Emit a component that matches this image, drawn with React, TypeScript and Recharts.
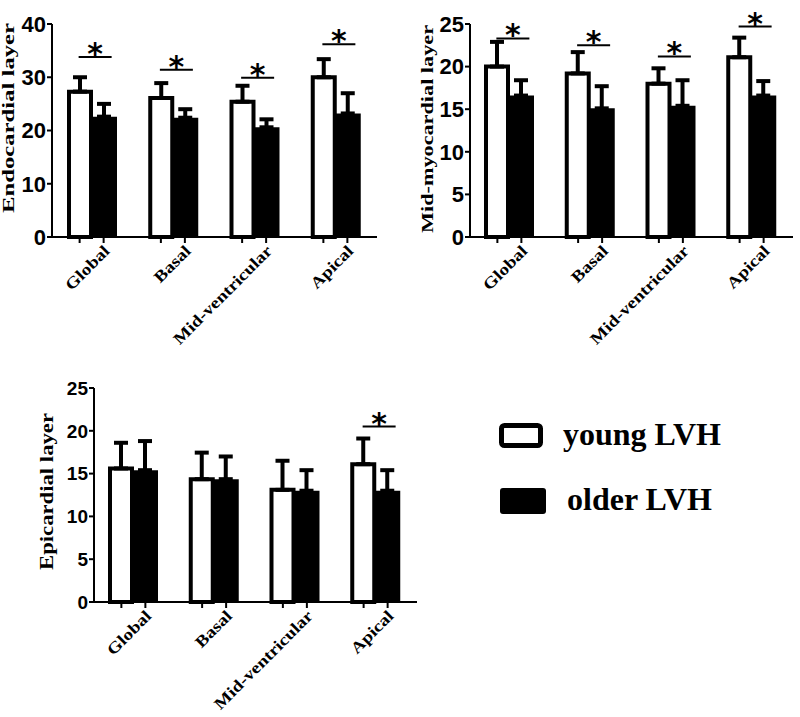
import React from 'react';
import { BarChart, Bar, XAxis, YAxis, ErrorBar, ReferenceDot, Legend } from 'recharts';

const categories = ['Global', 'Basal', 'Mid-ventricular', 'Apical'];
const seriesNames = ['young LVH', 'older LVH'];

// Endocardial layer
const endoYoung = [27.3, 26.1, 25.4, 30.0];
const endoYoungSd = [2.7, 2.8, 3.0, 3.4];
const endoOlder = [22.6, 22.4, 20.6, 23.2];
const endoOlderSd = [2.4, 1.6, 1.5, 3.8];
const endoSig = [33.8, 31.4, 29.9, 36.2];
const endoTicks = [0, 10, 20, 30, 40];

// Mid-myocardial layer
const midYoung = [20.0, 19.2, 18.0, 21.1];
const midYoungSd = [2.9, 2.5, 1.8, 2.3];
const midOlder = [16.6, 15.1, 15.4, 16.6];
const midOlderSd = [1.8, 2.6, 3.0, 1.7];
const midSig = [23.3, 22.5, 21.2, 24.7];
const midTicks = [0, 5, 10, 15, 20, 25];

// Epicardial layer
const epiYoung = [15.6, 14.35, 13.1, 16.1];
const epiYoungSd = [3.0, 3.1, 3.4, 3.0];
const epiOlder = [15.4, 14.35, 13.0, 13.0];
const epiOlderSd = [3.4, 2.65, 2.4, 2.4];
const epiSig = [null, null, null, 20.5];
const epiTicks = [0, 5, 10, 15, 20, 25];

const buildData = (y: number[], ysd: number[], o: number[], osd: number[]) =>
  categories.map((c, i) => ({
    cat: c,
    young: y[i],
    older: o[i],
    youngErr: [0, ysd[i]],
    olderErr: [0, osd[i]],
  }));

const endoData = buildData(endoYoung, endoYoungSd, endoOlder, endoOlderSd);
const midData = buildData(midYoung, midYoungSd, midOlder, midOlderSd);
const epiData = buildData(epiYoung, epiYoungSd, epiOlder, epiOlderSd);

const SERIF = '"Liberation Serif", "Times New Roman", serif';
const SANS = '"Liberation Sans", Arial, sans-serif';

const XTick = (props: any) => {
  const { x, y, payload } = props;
  return (
    <g>
      <line x1={x - 13} x2={x - 13} y1={y} y2={y + 6} stroke="#000" strokeWidth={2} />
      <line x1={x + 11} x2={x + 11} y1={y} y2={y + 6} stroke="#000" strokeWidth={2} />
      <text
        transform={`translate(${x + 18},${y + 15}) rotate(-45) scale(1.2,1)`}
        textAnchor="end"
        fontFamily={SERIF}
        fontWeight="bold"
        fontSize={16}
        fill="#000"
      >
        {payload.value}
      </text>
    </g>
  );
};

const YTitle = (props: any) => {
  const { titleText, px, py, len, fs } = props;
  return (
    <text
      transform={`translate(${px},${py}) rotate(-90)`}
      textAnchor="middle"
      fontFamily={SERIF}
      fontWeight="bold"
      fontSize={fs}
      textLength={len}
      lengthAdjust="spacingAndGlyphs"
      fill="#000"
    >
      {titleText}
    </text>
  );
};

const SigMark = (props: any) => {
  const { cx, cy } = props;
  if (cx == null || cy == null) return null;
  return (
    <g>
      <line x1={cx - 14} x2={cx + 19} y1={cy} y2={cy} stroke="#000" strokeWidth={2} />
      <text
        x={cx + 2.5}
        y={cy + 7}
        textAnchor="middle"
        fontFamily='"DejaVu Sans", sans-serif'
        fontWeight="bold"
        fontSize={30}
        fill="#000"
      >
        *
      </text>
    </g>
  );
};

const LegendContent = (props: any) => {
  const items = [...(props.payload || [])].sort(
    (a: any, b: any) => seriesNames.indexOf(a.value) - seriesNames.indexOf(b.value)
  );
  return (
    <svg width={300} height={110} style={{ display: 'block' }}>
      {items.map((entry: any) => {
        const i = seriesNames.indexOf(entry.value);
        return (
          <g key={entry.value} transform={`translate(0,${i * 65})`}>
            {i === 0 ? (
              <rect x={6.5} y={10.5} width={39} height={20} rx={3} fill="#fff" stroke="#000" strokeWidth={5} />
            ) : (
              <rect x={5} y={8} width={46} height={26} rx={3} fill="#000" />
            )}
            <text x={i === 0 ? 68 : 72} y={30} fontFamily={SERIF} fontWeight="bold" fontSize={32} fill="#000">
              {entry.value}
            </text>
          </g>
        );
      })}
    </svg>
  );
};

type PanelProps = {
  data: any[];
  sig: (number | null)[];
  ticks: number[];
  yMax: number;
  title: string;
  titleLen: number;
  titleX: number;
  titleY: number;
  titleFs: number;
  tickFs: number;
  width: number;
  height: number;
  margin: any;
  yWidth: number;
  xHeight: number;
  legend?: boolean;
};

const Panel = (p: PanelProps) => (
  <BarChart width={p.width} height={p.height} data={p.data} margin={p.margin} barGap={0}>
    <XAxis
      dataKey="cat"
      height={p.xHeight}
      interval={0}
      tickLine={false}
      tickSize={0}
      tickMargin={0}
      axisLine={{ stroke: '#000', strokeWidth: 2 }}
      tick={(tp: any) => <XTick {...tp} />}
    />
    <YAxis
      domain={[0, p.yMax]}
      ticks={p.ticks}
      interval={0}
      width={p.yWidth}
      tickSize={5}
      tickMargin={1}
      axisLine={{ stroke: '#000', strokeWidth: 2 }}
      tickLine={{ stroke: '#000', strokeWidth: 2 }}
      tick={{ fill: '#000', fontSize: p.tickFs, fontWeight: 'bold', fontFamily: SANS }}
      label={<YTitle titleText={p.title} px={p.titleX} py={p.titleY} len={p.titleLen} fs={p.titleFs} />}
    />
    <Bar dataKey="young" name={seriesNames[0]} barSize={22} fill="#ffffff" stroke="#000" strokeWidth={4} isAnimationActive={false}>
      <ErrorBar dataKey="youngErr" width={7} stroke="#000" strokeWidth={4} direction="y" isAnimationActive={false} />
    </Bar>
    <Bar dataKey="older" name={seriesNames[1]} barSize={26} fill="#000000" isAnimationActive={false}>
      <ErrorBar dataKey="olderErr" width={7} stroke="#000" strokeWidth={4} direction="y" isAnimationActive={false} />
    </Bar>
    {categories.map((c, i) =>
      p.sig[i] == null ? null : (
        <ReferenceDot key={c} x={c} y={p.sig[i] as number} r={0} shape={(sp: any) => <SigMark {...sp} />} />
      )
    )}
    {p.legend ? (
      <Legend
        layout="vertical"
        align="center"
        verticalAlign="middle"
        content={(lp: any) => <LegendContent {...lp} />}
        wrapperStyle={{ position: 'absolute', left: 495, top: 55, width: 300, height: 110 }}
      />
    ) : null}
  </BarChart>
);

export default function App() {
  return (
    <div style={{ position: 'absolute', left: 0, top: 0, width: 800, height: 717, background: '#fff', overflow: 'hidden' }}>
      <div style={{ position: 'absolute', left: 0, top: 0 }}>
        <Panel
          data={endoData}
          sig={endoSig}
          ticks={endoTicks}
          yMax={40}
          title="Endocardial layer"
          titleLen={190}
          titleX={13.5}
          titleY={118}
          titleFs={17}
          tickFs={22}
          width={400}
          height={362}
          margin={{ top: 24, right: 23, bottom: 0, left: 0 }}
          yWidth={52}
          xHeight={125}
        />
      </div>
      <div style={{ position: 'absolute', left: 400, top: 0 }}>
        <Panel
          data={midData}
          sig={midSig}
          ticks={midTicks}
          yMax={25}
          title="Mid-myocardial layer"
          titleLen={208}
          titleX={33}
          titleY={129}
          titleFs={17}
          tickFs={22}
          width={400}
          height={362}
          margin={{ top: 24, right: 7, bottom: 0, left: 0 }}
          yWidth={70}
          xHeight={125}
        />
      </div>
      <div style={{ position: 'absolute', left: 0, top: 360 }}>
        <Panel
          data={epiData}
          sig={epiSig}
          ticks={epiTicks}
          yMax={25}
          title="Epicardial layer"
          titleLen={157}
          titleX={53}
          titleY={131.5}
          titleFs={18}
          tickFs={19}
          width={800}
          height={357}
          margin={{ top: 28, right: 383, bottom: 0, left: 0 }}
          yWidth={94}
          xHeight={115}
          legend
        />
      </div>
    </div>
  );
}
